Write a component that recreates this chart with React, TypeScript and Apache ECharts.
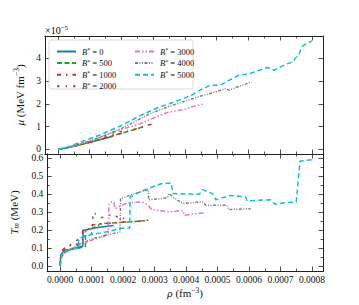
import React, { useEffect, useRef } from 'react';
import * as echarts from 'echarts';

// ---------- data ----------
const bLabels = ['0', '500', '1000', '2000', '3000', '4000', '5000'];

// top panel: mu in units of 1e-5 MeV fm^-3
const rhoTop0 = [0, 0.00002, 0.00005, 0.0001, 0.00014, 0.00017];
const muTop0 = [0, 0.05, 0.14, 0.31, 0.46, 0.57];
const rhoTop500 = [0, 0.00002, 0.00005, 0.0001, 0.00015, 0.0002, 0.00025, 0.00027];
const muTop500 = [0, 0.05, 0.14, 0.31, 0.5, 0.71, 0.91, 1.0];
const rhoTop1000 = [0, 0.00002, 0.00005, 0.0001, 0.00015, 0.0002, 0.00025, 0.00027, 0.0003];
const muTop1000 = [0, 0.05, 0.14, 0.31, 0.5, 0.71, 0.92, 1.0, 1.13];
const rhoTop2000 = [0, 0.00005, 0.0001, 0.00015, 0.0002, 0.00022];
const muTop2000 = [0, 0.15, 0.34, 0.56, 0.8, 0.88];
const rhoTop3000 = [0, 0.00005, 0.0001, 0.00015, 0.0002, 0.00026, 0.00032, 0.00035, 0.0004, 0.00042, 0.000456];
const muTop3000 = [0, 0.16, 0.37, 0.62, 0.88, 1.13, 1.49, 1.64, 1.76, 1.86, 1.98];
const rhoTop4000 = [0, 0.00005, 0.0001, 0.00015, 0.0002, 0.00023, 0.00029, 0.00035, 0.0004, 0.00044, 0.00048, 0.00053, 0.00054, 0.00056, 0.00061];
const muTop4000 = [0, 0.16, 0.37, 0.63, 0.92, 1.13, 1.57, 1.89, 2.11, 2.3, 2.45, 2.67, 2.59, 2.71, 2.96];
const rhoTop5000 = [0, 0.00003, 0.00007, 0.00013, 0.0002, 0.00026, 0.00032, 0.00035, 0.00038, 0.00042, 0.00045, 0.00048, 0.00051, 0.00055, 0.00057, 0.0006, 0.00063, 0.00066, 0.00068, 0.00072, 0.00074, 0.00076, 0.00077, 0.0008];
const muTop5000 = [0, 0.1, 0.32, 0.62, 1.05, 1.49, 1.86, 2.0, 2.15, 2.37, 2.62, 2.81, 2.81, 3.11, 3.25, 3.3, 3.45, 3.59, 3.47, 3.74, 3.84, 4.21, 4.53, 4.76];

// bottom panel: T_m in MeV
const rhoBot0 = [0, 0.0000005, 0.000002, 0.000005, 0.00001, 0.00002, 0.00004, 0.00006, 0.000072, 0.000073, 0.0001, 0.00012, 0.00015, 0.00017];
const tBot0 = [0, 0.03, 0.055, 0.07, 0.08, 0.088, 0.097, 0.106, 0.11, 0.2, 0.208, 0.215, 0.222, 0.226];
const rhoBot500 = [0, 0.000001, 0.000003, 0.000006, 0.00001, 0.00003, 0.00006, 0.00008, 0.000081, 0.0001, 0.00012, 0.000125, 0.00015, 0.0002, 0.00025, 0.00027];
const tBot500 = [0, 0.03, 0.06, 0.075, 0.085, 0.09, 0.1, 0.108, 0.2, 0.21, 0.225, 0.235, 0.238, 0.244, 0.25, 0.252];
const rhoBot1000 = [0, 0.000002, 0.000008, 0.00002, 0.00005, 0.00007, 0.000072, 0.0001, 0.000102, 0.00013, 0.00017, 0.0002, 0.00025, 0.00029];
const tBot1000 = [0, 0.05, 0.09, 0.11, 0.12, 0.13, 0.2, 0.21, 0.23, 0.235, 0.24, 0.245, 0.25, 0.258];
const rhoBot2000 = [0, 0.000005, 0.00002, 0.00004, 0.00006, 0.00008, 0.0001, 0.000105, 0.00013, 0.00015, 0.00017, 0.00019, 0.00021];
const tBot2000 = [0, 0.07, 0.1, 0.13, 0.15, 0.17, 0.18, 0.3, 0.27, 0.28, 0.29, 0.26, 0.27];
const rhoBot3000 = [0, 0.000002, 0.00001, 0.00003, 0.00005, 0.00008, 0.00011, 0.00014, 0.000153, 0.000155, 0.00016, 0.00017, 0.000175, 0.00021, 0.00025, 0.00026, 0.00028, 0.00029, 0.00035, 0.00039, 0.000395, 0.00042, 0.000456];
const tBot3000 = [0, 0.04, 0.07, 0.09, 0.11, 0.13, 0.15, 0.165, 0.18, 0.34, 0.357, 0.357, 0.32, 0.35, 0.357, 0.357, 0.339, 0.315, 0.302, 0.31, 0.283, 0.29, 0.296];
const rhoBot4000 = [0, 0.000002, 0.00001, 0.00003, 0.00006, 0.0001, 0.00014, 0.00019, 0.000192, 0.00023, 0.00028, 0.000281, 0.00034, 0.000347, 0.000358, 0.00039, 0.000442, 0.000452, 0.000463, 0.000529, 0.000536, 0.000605];
const tBot4000 = [0, 0.04, 0.07, 0.09, 0.12, 0.15, 0.17, 0.19, 0.376, 0.4, 0.426, 0.37, 0.38, 0.404, 0.385, 0.348, 0.357, 0.357, 0.339, 0.339, 0.315, 0.32];
const rhoBot5000 = [0, 0.000002, 0.00001, 0.00003, 0.000056, 0.00006, 0.000087, 0.0001, 0.000145, 0.000197, 0.000221, 0.000222, 0.000258, 0.000321, 0.000353, 0.000358, 0.000442, 0.000452, 0.000484, 0.000494, 0.000542, 0.000589, 0.000594, 0.000668, 0.000683, 0.00071, 0.00075, 0.000762, 0.000799];
const tBot5000 = [0, 0.04, 0.07, 0.09, 0.1, 0.154, 0.17, 0.175, 0.19, 0.21, 0.21, 0.385, 0.418, 0.459, 0.463, 0.404, 0.4, 0.426, 0.404, 0.37, 0.394, 0.385, 0.363, 0.37, 0.344, 0.352, 0.357, 0.585, 0.593];

// ticks
const rhoTicks = [0, 0.0001, 0.0002, 0.0003, 0.0004, 0.0005, 0.0006, 0.0007, 0.0008];
const rhoMinor = [0.00005, 0.00015, 0.00025, 0.00035, 0.00045, 0.00055, 0.00065, 0.00075];
const muTicks = [0, 1, 2, 3, 4];
const tTicks = [0, 0.1, 0.2, 0.3, 0.4, 0.5, 0.6];
const tMinor = [0.05, 0.15, 0.25, 0.35, 0.45, 0.55];

// ---------- styling ----------
const FONT = "'Liberation Serif', 'DejaVu Serif', serif";
const colors = ['#1f77b4', '#2ca02c', '#d62728', '#8c564b', '#e377c2', '#7f7f7f', '#17becf'];
const dashes: any[] = [
  'solid',
  [5, 2.5],
  [4, 5, 1.5, 5],
  [2.5, 6, 1.5, 6],
  [5, 2, 1.5, 2, 1.5, 2],
  [3, 1.5, 1, 1.5, 1, 1.5],
  [5, 3],
];

const topRho = [rhoTop0, rhoTop500, rhoTop1000, rhoTop2000, rhoTop3000, rhoTop4000, rhoTop5000];
const topMu = [muTop0, muTop500, muTop1000, muTop2000, muTop3000, muTop4000, muTop5000];
const botRho = [rhoBot0, rhoBot500, rhoBot1000, rhoBot2000, rhoBot3000, rhoBot4000, rhoBot5000];
const botT = [tBot0, tBot500, tBot1000, tBot2000, tBot3000, tBot4000, tBot5000];

const X_MIN = -0.000041;
const X_MAX = 0.000835;
const MU_MIN = -0.2;
const MU_MAX = 4.97;
const T_MIN = -0.028;
const T_MAX = 0.625;

const AX_COLOR = '#222';

const richText = {
  n: { fontFamily: FONT, fontSize: 11, color: '#111', lineHeight: 14, verticalAlign: 'middle' },
  i: { fontFamily: FONT, fontSize: 11, fontStyle: 'italic', color: '#111', lineHeight: 14, verticalAlign: 'middle' },
  sup: { fontFamily: FONT, fontSize: 7.5, color: '#111', lineHeight: 8, verticalAlign: 'top' },
  sub: { fontFamily: FONT, fontSize: 7.5, fontStyle: 'italic', color: '#111', lineHeight: 8, verticalAlign: 'bottom' },
};

function mkAxis(
  kind: 'x' | 'y',
  gridIndex: number,
  position: string,
  min: number,
  max: number,
  ticks: number[],
  len: number,
  labels: boolean,
  fmt?: (v: number) => string,
  extra: any = {}
) {
  return {
    type: 'value',
    gridIndex,
    position,
    min,
    max,
    axisLine: { show: true, onZero: false, lineStyle: { color: AX_COLOR, width: 1 } },
    axisTick: { show: true, inside: true, length: len, customValues: ticks, lineStyle: { color: AX_COLOR, width: 0.8 } },
    axisLabel: labels
      ? {
          show: true,
          customValues: ticks,
          formatter: fmt,
          fontFamily: FONT,
          fontSize: 9.5,
          color: '#111',
          margin: kind === 'x' ? 4 : 4,
        }
      : { show: false },
    splitLine: { show: false },
    minorTick: { show: false },
    ...extra,
  };
}

export default function App() {
  const ref = useRef<HTMLDivElement>(null);

  useEffect(() => {
    document.body.style.margin = '0';
    if (!ref.current) return;
    const chart = echarts.init(ref.current, null, { renderer: 'svg' });

    const xAxes = [
      // top grid
      mkAxis('x', 0, 'bottom', X_MIN, X_MAX, rhoTicks, 4.5, false),
      mkAxis('x', 0, 'bottom', X_MIN, X_MAX, rhoMinor, 2.5, false),
      mkAxis('x', 0, 'top', X_MIN, X_MAX, rhoTicks, 4.5, false),
      mkAxis('x', 0, 'top', X_MIN, X_MAX, rhoMinor, 2.5, false),
      // bottom grid
      mkAxis('x', 1, 'bottom', X_MIN, X_MAX, rhoTicks, 4.5, true, (v: number) => v.toFixed(4), {
        name: '{i|ρ}{n| (fm}{sup|−3}{n|)}',
        nameLocation: 'middle',
        nameGap: 15,
        nameTextStyle: { rich: richText },
      }),
      mkAxis('x', 1, 'bottom', X_MIN, X_MAX, rhoMinor, 2.5, false),
      mkAxis('x', 1, 'top', X_MIN, X_MAX, rhoTicks, 4.5, false),
      mkAxis('x', 1, 'top', X_MIN, X_MAX, rhoMinor, 2.5, false),
    ];
    const yAxes = [
      mkAxis('y', 0, 'left', MU_MIN, MU_MAX, muTicks, 4.5, true, (v: number) => String(Math.round(v)), {
        name: '{i|μ}{n| (MeV fm}{sup|−3}{n|)}',
        nameLocation: 'middle',
        nameGap: 11,
        nameTextStyle: { rich: richText },
      }),
      mkAxis('y', 0, 'right', MU_MIN, MU_MAX, muTicks, 4.5, false),
      mkAxis('y', 1, 'left', T_MIN, T_MAX, tTicks, 4.5, true, (v: number) => v.toFixed(1), {
        name: '{i|T}{sub|m}{n| (MeV)}',
        nameLocation: 'middle',
        nameGap: 17,
        nameTextStyle: { rich: richText },
      }),
      mkAxis('y', 1, 'left', T_MIN, T_MAX, tMinor, 2.5, false),
      mkAxis('y', 1, 'right', T_MIN, T_MAX, tTicks, 4.5, false),
      mkAxis('y', 1, 'right', T_MIN, T_MAX, tMinor, 2.5, false),
    ];

    const series: any[] = [];
    bLabels.forEach((b, k) => {
      const ls = { color: colors[k], width: 1.5, type: dashes[k] };
      series.push({
        type: 'line',
        name: b,
        xAxisIndex: 0,
        yAxisIndex: 0,
        data: topRho[k].map((r, j) => [r, topMu[k][j]]),
        showSymbol: false,
        symbol: 'none',
        lineStyle: ls,
        itemStyle: { color: colors[k] },
        z: 2 + k * 0.01,
      });
      series.push({
        type: 'line',
        name: b,
        xAxisIndex: 4,
        yAxisIndex: 2,
        data: botRho[k].map((r, j) => [r, botT[k][j]]),
        showSymbol: false,
        symbol: 'none',
        lineStyle: ls,
        itemStyle: { color: colors[k] },
        z: 2 + k * 0.01,
      });
    });

    const legendRich = {
      i: { fontFamily: FONT, fontSize: 8.5, fontStyle: 'italic', color: '#111' },
      n: { fontFamily: FONT, fontSize: 8.5, color: '#111' },
      s: { fontFamily: FONT, fontSize: 6, color: '#111', verticalAlign: 'top' },
    };
    const legendCommon = {
      orient: 'vertical',
      itemWidth: 19,
      itemHeight: 9,
      itemGap: 2.6,
      itemStyle: { opacity: 0 },
      formatter: (name: string) => `{i|B}{s|*}{n| = ${name}}`,
      textStyle: { rich: legendRich, padding: [0, 0, 0, 1] },
      z: 10,
    };

    chart.setOption({
      animation: false,
      backgroundColor: '#fff',
      grid: [
        { left: 45, top: 36, width: 278, height: 118 },
        { left: 45, top: 154, width: 278, height: 117 },
      ],
      xAxis: xAxes,
      yAxis: yAxes,
      legend: [
        { ...legendCommon, left: 51, top: 42, data: bLabels.slice(0, 4) },
        { ...legendCommon, left: 129, top: 42, data: bLabels.slice(4) },
      ],
      graphic: [
        {
          type: 'rect',
          shape: { x: 49, y: 40, width: 144, height: 49, r: 2 },
          style: { fill: 'rgba(255,255,255,0.85)', stroke: '#d0d0d0', lineWidth: 0.8 },
          z: 9,
        },
        {
          type: 'text',
          x: 45,
          y: 24,
          style: {
            text: '{n|×10}{sup|−5}',
            rich: {
              n: { fontFamily: FONT, fontSize: 10, color: '#111', lineHeight: 12, verticalAlign: 'middle' },
              sup: { fontFamily: FONT, fontSize: 7, color: '#111', lineHeight: 7, verticalAlign: 'top' },
            },
          },
          z: 10,
        },
      ],
      series,
    });

    return () => chart.dispose();
  }, []);

  return <div ref={ref} style={{ width: 359, height: 305 }} />;
}
